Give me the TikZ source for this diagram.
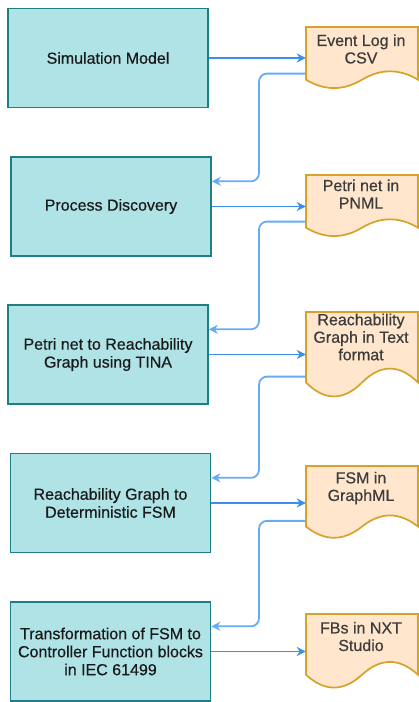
\documentclass[tikz,border=0pt]{standalone}
\usepackage{fontspec}
\setmainfont{Liberation Sans}
\newfontfamily\labelsans{Liberation Sans}[FakeBold=0.45]
\usetikzlibrary{arrows.meta,calc}

\definecolor{procfill}{HTML}{B0E3E6}
\definecolor{procline}{HTML}{1E7F86}
\definecolor{docfill}{HTML}{FFE6CC}
\definecolor{docline}{HTML}{D7A22A}
\definecolor{flowblue}{HTML}{3B8DEE}
\definecolor{backblue}{HTML}{66ACF4}
\definecolor{inktext}{HTML}{1A1A1A}

\tikzset{
  process/.style={draw=procline, fill=procfill, line width=1.7pt,
    minimum width=200pt, minimum height=99pt, inner sep=0pt,
    align=center, text=inktext, font=\labelsans\fontsize{16}{18}\selectfont},
  docframe/.style={draw=docline, fill=docfill, line width=1.7pt},
  docanchor/.style={inner sep=0pt, minimum width=112pt},
  doctext/.style={align=center, text=inktext!85, inner sep=0pt,
    font=\labelsans\fontsize{16}{17.5}\selectfont},
  flow/.style={draw=flowblue, line width=1.8pt, -{Stealth[length=9pt,width=9pt]}},
  back/.style={draw=backblue, line width=1.8pt, rounded corners=8pt,
    -{Stealth[length=9pt,width=9pt]}},
}

% document shape with a wavy bottom edge: name, left x, top y, width, height, wave size
\newcommand\docshape[6]{%
  \path[docframe]
    (#2,#3) -- ({#2+#4},#3) -- ({#2+#4},{#3+#5-0.5*#6*#5})
    .. controls ({#2+#4-#4/6},{#3+#5-1.1*#6*#5}) and ({#2+#4/2+#4/6},{#3+#5-1.1*#6*#5})
    .. ({#2+#4/2},{#3+#5-0.5*#6*#5})
    .. controls ({#2+#4/2-#4/6},{#3+#5+0.1*#6*#5}) and ({#2+#4/6},{#3+#5+0.1*#6*#5})
    .. (#2,{#3+#5-0.5*#6*#5}) -- cycle;
  \node[docanchor, minimum height=#5 pt] (#1) at ({#2+#4/2},{#3+#5/2}) {};
}

\begin{document}
\begin{tikzpicture}[x=1pt, y=-1pt]
  \useasboundingbox (0,0) rectangle (418,702);

  % process steps
  \node[process] (b1) at (108,58)    {Simulation Model};
  \node[process] (b2) at (111,206.5) {Process Discovery};
  \node[process] (b3) at (108,354.5) {Petri net to Reachability\\Graph using TINA};
  \node[process] (b4) at (110.5,503) {Reachability Graph to\\Deterministic FSM};
  \node[process] (b5) at (110.5,651.5) {Transformation of FSM to\\Controller Function blocks\\in IEC 61499};

  % produced artefacts
  \docshape{d1}{306}{27}{112}{62}{0.3}
  \docshape{d2}{306}{175}{112}{62}{0.3}
  \docshape{d3}{306}{312}{112}{86}{0.36}
  \docshape{d4}{306}{466}{112}{73}{0.34}
  \docshape{d5}{306}{614}{112}{75}{0.38}

  \node[doctext] (t1) at (361,49)  {Event Log in\\CSV};
  \node[doctext] (t2) at (361,194) {Petri net in\\PNML};
  \node[doctext] (t3) at (361,337) {Reachability\\Graph in Text\\format};
  \node[doctext] (t4) at (361,488) {FSM in\\GraphML};
  \node[doctext] (t5) at (361,636.5) {FBs in NXT\\Studio};

  % forward flows
  \draw[flow] (b1.east) -- (b1.east -| d1.west);
  \draw[flow] (b2.east) -- (b2.east -| d2.west);
  \draw[flow] (b3.east) -- (b3.east -| d3.west);
  \draw[flow] (b4.east) -- (b4.east -| d4.west);
  \draw[flow] (b5.east) -- (b5.east -| d5.west);

  % feedback of each artefact into the next step
  \coordinate (spine) at (259,0);
  \coordinate (o1) at ($(d1.south west)!0.25!(d1.north west)$);
  \coordinate (o2) at ($(d2.south west)!0.25!(d2.north west)$);
  \coordinate (o3) at ($(d3.south west)!0.25!(d3.north west)$);
  \coordinate (o4) at ($(d4.south west)!0.25!(d4.north west)$);
  \coordinate (i2) at ($(b2.north east)!0.25!(b2.south east)$);
  \coordinate (i3) at ($(b3.north east)!0.25!(b3.south east)$);
  \coordinate (i4) at ($(b4.north east)!0.25!(b4.south east)$);
  \coordinate (i5) at ($(b5.north east)!0.25!(b5.south east)$);
  \draw[back] (o1) -- (o1 -| spine) -- (spine |- i2) -- (i2);
  \draw[back] (o2) -- (o2 -| spine) -- (spine |- i3) -- (i3);
  \draw[back] (o3) -- (o3 -| spine) -- (spine |- i4) -- (i4);
  \draw[back] (o4) -- (o4 -| spine) -- (spine |- i5) -- (i5);
\end{tikzpicture}
\end{document}
